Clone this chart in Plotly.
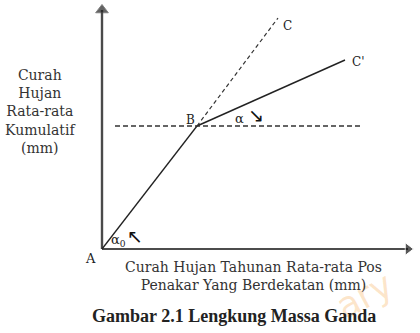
import plotly.graph_objects as go

# Conceptual chart coordinates (origin at A)
A = (0, 0)
B = (95, 123)
C_dash = (176, 231)
C_prime = (243, 189)
h_dash_x = [13, 258]
x_axis_end = 306
y_axis_end = 239

y_title_lines = ["Curah", "Hujan", "Rata-rata", "Kumulatif", "(mm)"]
x_title_lines = ["Curah Hujan Tahunan Rata-rata Pos", "Penakar Yang Berdekatan (mm)"]
caption = "Gambar 2.1 Lengkung Massa Ganda"

SERIF = "DejaVu Serif"

fig = go.Figure()
# axes
fig.add_trace(go.Scatter(x=[0, 0], y=[0, y_axis_end], mode="lines+markers",
                         line=dict(color="#4a4a4a", width=2.4),
                         marker=dict(symbol=["circle", "triangle-up"], size=[0, 11], color="#222"),
                         hoverinfo="skip"))
fig.add_trace(go.Scatter(x=[0, x_axis_end], y=[0, 0], mode="lines+markers",
                         line=dict(color="#111", width=1.6),
                         marker=dict(symbol=["circle", "triangle-right"], size=[0, 11], color="#111"),
                         hoverinfo="skip"))
# A -> B solid
fig.add_trace(go.Scatter(x=[A[0], B[0]], y=[A[1], B[1]], mode="lines",
                         line=dict(color="#222", width=1.3), hoverinfo="skip"))
# B -> C dashed
fig.add_trace(go.Scatter(x=[B[0], C_dash[0]], y=[B[1], C_dash[1]], mode="lines",
                         line=dict(color="#333", width=1.2, dash="4px,3px"), hoverinfo="skip"))
# B -> C' solid
fig.add_trace(go.Scatter(x=[B[0], C_prime[0]], y=[B[1], C_prime[1]], mode="lines",
                         line=dict(color="#222", width=1.4), hoverinfo="skip"))
# horizontal dashed through B
fig.add_trace(go.Scatter(x=h_dash_x, y=[B[1], B[1]], mode="lines",
                         line=dict(color="#333", width=1.3, dash="5px,3px"), hoverinfo="skip"))

ann = []

def txt(x, y, s, size=13, font=SERIF, color="#222", **kw):
    ann.append(dict(x=x, y=y, xref="x", yref="y", text=s, showarrow=False,
                    font=dict(family=font, size=size, color=color), **kw))

txt(262, -46, "ary", 36, font="DejaVu Sans", color="rgba(245,165,70,0.28)", textangle=-28)
txt(-12, -9, "A", 13)
txt(88, 129, "B", 12)
txt(185, 223, "C", 12)
txt(256, 187, "C'", 12)
txt(137, 131, "α", 13)
txt(154, 134, "↘", 19, font="DejaVu Sans", color="#111")
txt(16, 9, "α<sub>0</sub>", 13)
txt(33, 13, "↖", 19, font="DejaVu Sans", color="#111")

txt(-62, 138, "<br>".join(y_title_lines), 14, color="#333")
txt(151, -27, "<br>".join(x_title_lines), 14, color="#333")
txt(132, -67, "<b>" + caption + "</b>", 18, font="Liberation Serif", color="#222")

fig.update_layout(
    width=420, height=333, autosize=False,
    margin=dict(l=0, r=0, t=0, b=0),
    paper_bgcolor="white", plot_bgcolor="white",
    showlegend=False, annotations=ann,
    xaxis=dict(range=[-102, 318], visible=False, fixedrange=True),
    yaxis=dict(range=[-84, 249], visible=False, fixedrange=True),
)
fig.write_html("out.html")
